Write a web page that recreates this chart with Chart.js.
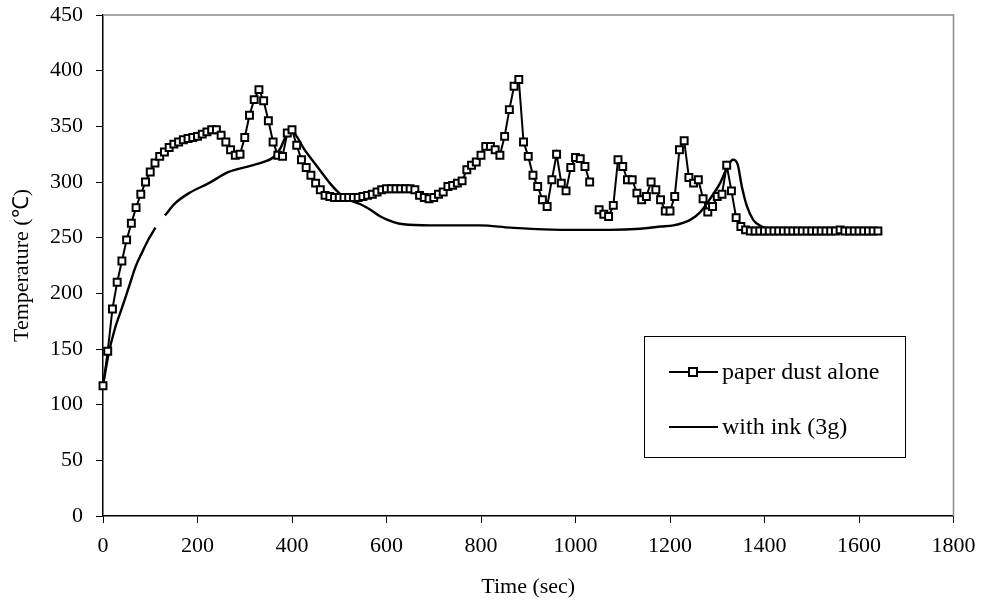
<!DOCTYPE html>
<html>
<head>
<meta charset="utf-8">
<script src="https://cdn.jsdelivr.net/npm/chart.js@4.4.0/dist/chart.umd.min.js"></script>
<style>
  html, body { margin: 0; padding: 0; background: #fff; }
  #wrap { width: 984px; height: 614px; position: relative; }
</style>
</head>
<body>
<div id="wrap"><canvas id="c" width="984" height="614"></canvas></div>
<script>
// ---- data ----
const paperTime = [
  0,10,20,30,40,50,60,70,80,90,
  100,110,120,130,140,150,160,170,180,190,
  200,210,220,230,240,250,260,270,280,290,
  300,310,320,330,340,350,360,370,380,390,
  400,410,420,430,440,450,460,470,480,490,
  500,510,520,530,540,550,560,570,580,590,
  600,610,620,630,640,650,660,670,680,690,
  700,710,720,730,740,750,760,770,780,790,
  800,810,820,830,840,850,860,870,880,890,
  900,910,920,930,940,950,960,970,980,990,
  1000,1010,1020,1030,1040,1050,1060,1070,1080,1090,
  1100,1110,1120,1130,1140,1150,1160,1170,1180,1190,
  1200,1210,1220,1230,1240,1250,1260,1270,1280,1290,
  1300,1310,1320,1330,1340,1350,1360,1370,1380,1390,
  1400,1410,1420,1430,1440,1450,1460,1470,1480,1490,
  1500,1510,1520,1530,1540,1550,1560,1570,1580,1590,
  1600,1610,1620,1630,1640
];
const paperDust = [
  117,148,186,210,229,248,263,277,289,300,
  309,317,323,327,331,334,336,338,339,340,
  341,343,345,347,347,342,336,329,324,325,
  340,360,374,383,373,355,336,324,323,344,
  347,333,320,313,306,299,293,288,287,286,
  286,286,286,286,286,287,288,289,291,293,
  294,294,294,294,294,294,293,288,286,285,
  286,289,291,296,297,299,301,311,315,318,
  324,332,332,329,324,341,365,386,392,336,
  323,306,296,284,278,302,325,299,292,313,
  322,321,314,300,null,275,271,269,279,320,
  314,302,302,290,284,287,300,293,284,274,
  274,287,329,337,304,299,302,285,273,278,
  287,289,315,292,268,260,257,256,256,256,
  256,256,256,256,256,256,256,256,256,256,
  256,256,256,256,256,256,257,256,256,256,
  256,256,256,256,256
];
const inkTime = [0,6,12,25,41,55,69,83,97,111,121,131,153,182,224,266,308,340,360,375,388,398,410,425,446,462,480,500,520,545,566,587,615,636,693,798,862,968,1073,1137,1179,1207,1243,1264,1285,1306,1322,1333,1343,1352,1363,1376,1394,1419,1500,1645];
const inkTemp = [117,132,146,168,188,206,224,237,249,259,null,270,281,290,299,309,314,318,322,330,342,347,341,330,318,309,299,290,284,280,275,269,264,262,261,261,259,257,257,258,260,261,266,273,285,299,314,320,316,296,278,266,260,257,257,256];
const xTicks = [0,200,400,600,800,1000,1200,1400,1600,1800];
const yTicks = [0,50,100,150,200,250,300,350,400,450];
const seriesNames = ['paper dust alone', 'with ink (3g)'];
const axisTitles = { x: 'Time (sec)', y: 'Temperature (\u2103)' };

const FONT = '"Liberation Serif", "Times New Roman", serif';

const legendPlugin = {
  id: 'boxLegend',
  afterDatasetsDraw(chart) {
    const ctx = chart.ctx;
    const a = chart.chartArea;
    ctx.save();
    // grey top/right frame of plot area
    ctx.strokeStyle = '#888';
    ctx.lineWidth = 1.5;
    ctx.beginPath();
    ctx.moveTo(a.left, a.top);
    ctx.lineTo(a.right, a.top);
    ctx.lineTo(a.right, a.bottom);
    ctx.stroke();
    // legend box
    const bx = 644, by = 336, bw = 261, bh = 121;
    ctx.fillStyle = '#fff';
    ctx.fillRect(bx, by, bw, bh);
    ctx.strokeStyle = '#000';
    ctx.lineWidth = 1;
    ctx.strokeRect(bx + 0.5, by + 0.5, bw, bh);
    const rows = [372, 427];
    ctx.font = '24px ' + FONT;
    ctx.textBaseline = 'middle';
    ctx.textAlign = 'left';
    rows.forEach((y, i) => {
      ctx.strokeStyle = '#000';
      ctx.lineWidth = 2;
      ctx.beginPath();
      ctx.moveTo(669, y);
      ctx.lineTo(718, y);
      ctx.stroke();
      if (i === 0) {
        ctx.fillStyle = '#fff';
        ctx.fillRect(689, y - 4, 8, 8);
        ctx.strokeRect(689, y - 4, 8, 8);
      }
      ctx.fillStyle = '#000';
      ctx.fillText(seriesNames[i], 722, y + 1);
    });
    ctx.restore();
  }
};

new Chart(document.getElementById('c'), {
  type: 'line',
  data: {
    datasets: [
      {
        label: seriesNames[0],
        data: paperTime.map((t, i) => ({ x: t, y: paperDust[i] })),
        borderColor: '#000',
        borderWidth: 2,
        tension: 0,
        spanGaps: false,
        pointStyle: 'rect',
        pointRadius: 4.9,
        pointBorderWidth: 2,
        pointBackgroundColor: '#fff',
        pointBorderColor: '#000',
        clip: false
      },
      {
        label: seriesNames[1],
        data: inkTime.map((t, i) => ({ x: t, y: inkTemp[i] })),
        borderColor: '#000',
        borderWidth: 2.4,
        cubicInterpolationMode: 'monotone',
        spanGaps: false,
        pointRadius: 0,
        clip: false
      }
    ]
  },
  options: {
    responsive: false,
    animation: false,
    events: [],
    layout: { padding: { left: 0, right: 30.5, top: 15, bottom: 0 } },
    plugins: { legend: { display: false }, tooltip: { enabled: false } },
    scales: {
      x: {
        type: 'linear',
        min: 0, max: 1800,
        afterBuildTicks: s => { s.ticks = xTicks.map(v => ({ value: v })); },
        afterFit: s => { s.height = 98; s.paddingLeft = 0; s.paddingRight = 0; },
        border: { display: true, color: '#000', width: 1.5 },
        grid: { display: true, drawOnChartArea: false, drawTicks: true, tickLength: 7, color: '#000', lineWidth: 1 },
        ticks: { color: '#000', padding: 10, maxRotation: 0, autoSkip: false, callback: v => String(v), font: { family: FONT, size: 22 } },
        title: { display: true, text: axisTitles.x, color: '#000', padding: { top: 0, bottom: 14 }, font: { family: FONT, size: 22 } }
      },
      y: {
        min: 0, max: 450,
        afterBuildTicks: s => { s.ticks = yTicks.map(v => ({ value: v })); },
        afterFit: s => { s.width = 103; s.paddingTop = 0; s.paddingBottom = 0; },
        border: { display: true, color: '#000', width: 1.5 },
        grid: { display: true, drawOnChartArea: false, drawTicks: true, tickLength: 7, color: '#000', lineWidth: 1 },
        ticks: { color: '#000', padding: 13, autoSkip: false, callback: v => String(v), font: { family: FONT, size: 22 } },
        title: { display: true, text: axisTitles.y, color: '#000', padding: { top: 9, bottom: 0 }, font: { family: FONT, size: 22 } }
      }
    }
  },
  plugins: [legendPlugin]
});
</script>
</body>
</html>
